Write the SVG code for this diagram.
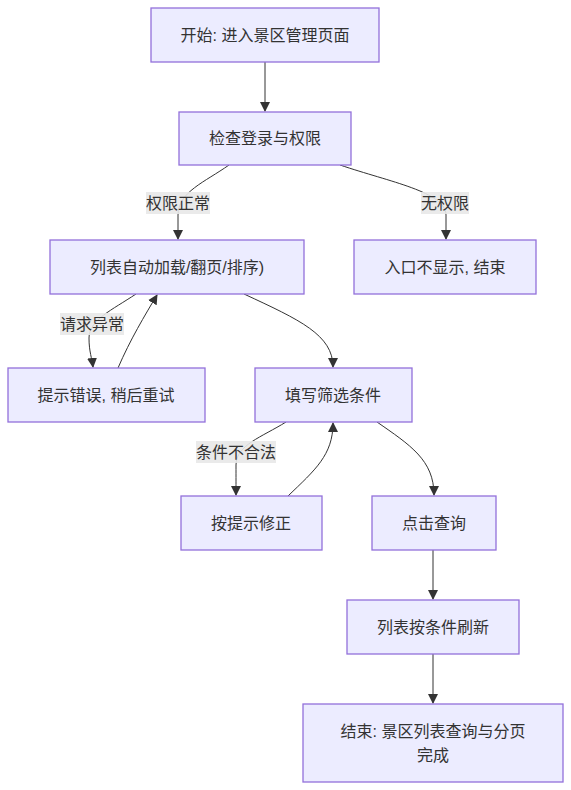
<svg xmlns="http://www.w3.org/2000/svg" width="571" height="790" viewBox="0 0 571 790">
<style>
.node rect{fill:#ECECFF;stroke:#9370DB;stroke-width:1.3}
text{font-family:"Liberation Sans","Noto Sans CJK SC",sans-serif;font-size:16px;fill:#333;text-anchor:middle;dominant-baseline:central}
.edges path{fill:none;stroke:#333;stroke-width:1}
.lbl rect{fill:#e8e8e8;opacity:0.9}
</style>
<defs>
<marker id="arr" markerWidth="10" markerHeight="10" refX="9" refY="5" orient="auto" markerUnits="userSpaceOnUse" viewBox="0 0 10 10">
<path d="M0,0 L10,5 L0,10 z" fill="#333"/>
</marker>
</defs>
<rect width="571" height="790" fill="#fff"/>
<g class="edges">
<path d="M265,62 L265,111" marker-end="url(#arr)"/>
<path d="M229,165 C205,182 178,192 178,215 L178,239" marker-end="url(#arr)"/>
<path d="M340,165 C390,182 446,192 446,215 L446,239" marker-end="url(#arr)"/>
<path d="M136,294 C112,310 89,320 89,338 C89,352 92,358 93,367" marker-end="url(#arr)"/>
<path d="M118,368 C130,340 145,315 157,295" marker-end="url(#arr)"/>
<path d="M244,294 C300,320 333,335 333,367" marker-end="url(#arr)"/>
<path d="M286,422 C262,437 236,445 236,465 C236,478 236,485 236,495" marker-end="url(#arr)"/>
<path d="M288,496 C315,470 333,455 333,423" marker-end="url(#arr)"/>
<path d="M377,422 C410,445 434,460 434,495" marker-end="url(#arr)"/>
<path d="M433,550 L433,599" marker-end="url(#arr)"/>
<path d="M433,654 L433,703" marker-end="url(#arr)"/>
</g>
<g id="lbl1" class="lbl"><rect x="146" y="192" width="64" height="22"/><text x="178" y="203">权限正常</text></g>
<g id="lbl2" class="lbl"><rect x="421" y="192" width="48" height="22"/><text x="445" y="203">无权限</text></g>
<g id="lbl3" class="lbl"><rect x="60" y="313" width="64" height="22"/><text x="92" y="324">请求异常</text></g>
<g id="lbl4" class="lbl"><rect x="196" y="441" width="80" height="22"/><text x="236" y="452">条件不合法</text></g>
<g id="n1" class="node"><rect x="151" y="8" width="228" height="54"/><text x="265" y="35">开始: 进入景区管理页面</text></g>
<g id="n2" class="node"><rect x="179" y="112" width="172" height="53"/><text x="265" y="138.5">检查登录与权限</text></g>
<g id="n3" class="node"><rect x="50" y="240" width="254" height="54"/><text x="177" y="267">列表自动加载/翻页/排序)</text></g>
<g id="n4" class="node"><rect x="354" y="240" width="182" height="54"/><text x="445" y="267">入口不显示, 结束</text></g>
<g id="n5" class="node"><rect x="8" y="368" width="197" height="54"/><text x="106" y="395">提示错误, 稍后重试</text></g>
<g id="n6" class="node"><rect x="255" y="368" width="157" height="54"/><text x="333" y="395">填写筛选条件</text></g>
<g id="n7" class="node"><rect x="181" y="496" width="141" height="54"/><text x="251" y="523">按提示修正</text></g>
<g id="n8" class="node"><rect x="372" y="496" width="124" height="54"/><text x="434" y="523">点击查询</text></g>
<g id="n9" class="node"><rect x="347" y="600" width="172" height="54"/><text x="433" y="627">列表按条件刷新</text></g>
<g id="n10" class="node"><rect x="303" y="704" width="260" height="78"/><text x="433" y="731">结束: 景区列表查询与分页</text><text x="433" y="755">完成</text></g>
</svg>
